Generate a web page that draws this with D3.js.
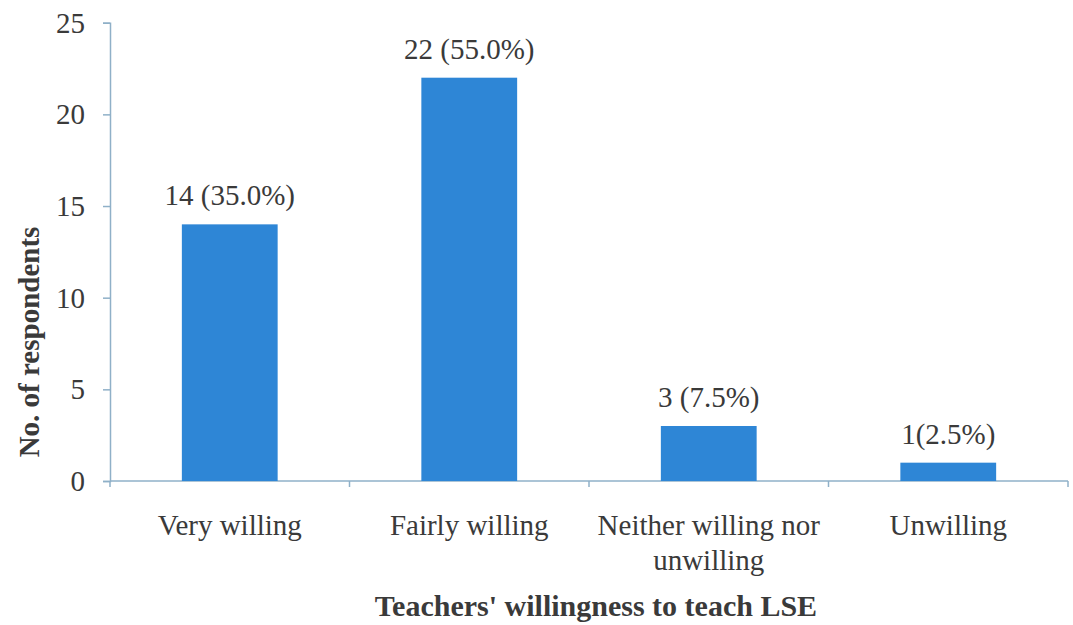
<!DOCTYPE html>
<html>
<head>
<meta charset="utf-8">
<script src="https://cdn.jsdelivr.net/npm/d3@7"></script>
</head>
<body style="margin:0; background:#fff">
<svg id="chart" width="1073" height="625"></svg>
<script>
// data
var categories = ["Very willing", "Fairly willing", "Neither willing nor unwilling", "Unwilling"];
var catLines = [["Very willing"], ["Fairly willing"], ["Neither willing nor", "unwilling"], ["Unwilling"]];
var counts = [14, 22, 3, 1];
var valueLabels = ["14 (35.0%)", "22 (55.0%)", "3 (7.5%)", "1(2.5%)"];
var yTicks = [0, 5, 10, 15, 20, 25];

var svg = d3.select("#chart");
var axisColor = "#8fb0c8",
    barColor = "#2e86d6",
    textColor = "#3a3a3a",
    serif = "'Liberation Serif', 'Times New Roman', serif",
    fontSize = "29px";

var left = 110, right = 1068;

var x = d3.scaleBand()
    .domain(categories)
    .range([left, right])
    .paddingInner(0.6)
    .paddingOuter(0.3);

var y = d3.scaleLinear()
    .domain([0, 25])
    .range([481, 22.7]);

// y axis
var yAxis = svg.append("g")
    .attr("transform", "translate(" + left + ",0)")
    .call(d3.axisLeft(y).tickValues(yTicks).tickSize(7).tickPadding(18));
yAxis.select(".domain").attr("stroke", axisColor).attr("stroke-width", 1.5);
yAxis.selectAll(".tick line").attr("stroke", axisColor).attr("stroke-width", 1.5);
yAxis.selectAll(".tick text")
    .style("font-family", serif)
    .style("font-size", fontSize)
    .attr("fill", textColor)
    .attr("dy", "0.33em");

// x axis line with ticks at the band edges
svg.append("line")
    .attr("x1", left).attr("x2", right)
    .attr("y1", y(0)).attr("y2", y(0))
    .attr("stroke", axisColor).attr("stroke-width", 1.5);
d3.range(categories.length + 1).forEach(function (i) {
    var xx = left + i * (right - left) / categories.length;
    svg.append("line")
        .attr("x1", xx).attr("x2", xx)
        .attr("y1", y(0)).attr("y2", y(0) + 6)
        .attr("stroke", axisColor).attr("stroke-width", 1.5);
});

// bars
svg.selectAll("rect.bar")
    .data(counts)
    .enter()
    .append("rect")
    .attr("class", "bar")
    .attr("x", function (d, i) { return x(categories[i]); })
    .attr("y", function (d) { return y(d); })
    .attr("width", x.bandwidth())
    .attr("height", function (d) { return y(0) - y(d); })
    .attr("fill", barColor);

// value labels
svg.selectAll("text.val")
    .data(counts)
    .enter()
    .append("text")
    .attr("class", "val")
    .attr("x", function (d, i) { return x(categories[i]) + x.bandwidth() / 2; })
    .attr("y", function (d) { return y(d) - 19; })
    .attr("text-anchor", "middle")
    .attr("fill", textColor)
    .style("font-family", serif)
    .style("font-size", fontSize)
    .text(function (d, i) { return valueLabels[i]; });

// category labels
catLines.forEach(function (lines, i) {
    var cx = x(categories[i]) + x.bandwidth() / 2;
    var t = svg.append("text")
        .attr("x", cx)
        .attr("y", 535)
        .attr("text-anchor", "middle")
        .attr("fill", textColor)
        .style("font-family", serif)
        .style("font-size", fontSize);
    lines.forEach(function (l, j) {
        t.append("tspan")
            .attr("x", cx)
            .attr("dy", j === 0 ? 0 : 35)
            .text(l);
    });
});

// axis titles
svg.append("text")
    .attr("x", 596)
    .attr("y", 616)
    .attr("text-anchor", "middle")
    .attr("fill", textColor)
    .style("font-family", serif)
    .style("font-size", "30px")
    .style("font-weight", "bold")
    .text("Teachers' willingness to teach LSE");

svg.append("text")
    .attr("transform", "translate(39,342) rotate(-90)")
    .attr("text-anchor", "middle")
    .attr("fill", textColor)
    .style("font-family", serif)
    .style("font-size", "29px")
    .style("font-weight", "bold")
    .text("No. of  respondents");
</script>
</body>
</html>
